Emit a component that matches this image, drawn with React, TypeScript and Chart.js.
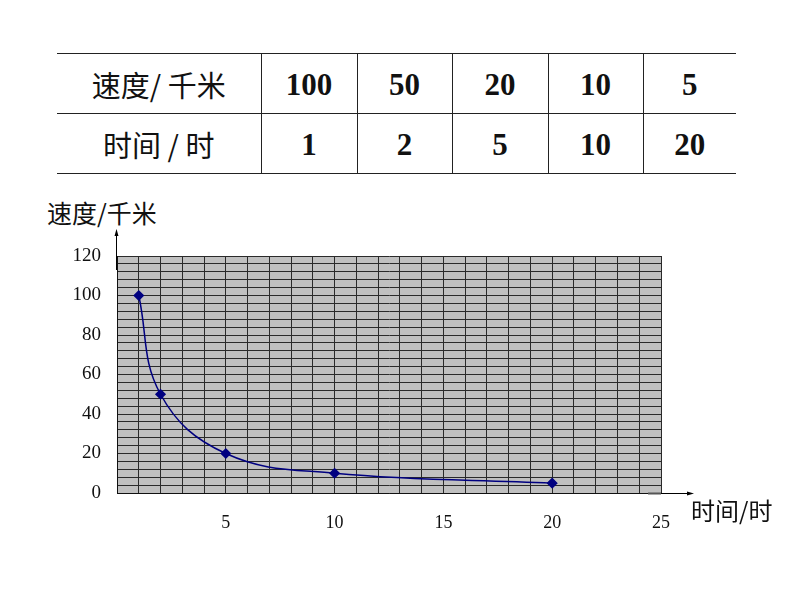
import { useEffect, useRef } from "react";
import { Chart, registerables } from "chart.js";

Chart.register(...registerables);

const times = [1, 2, 5, 10, 20];
const speeds = [100, 50, 20, 10, 5];
const xTickLabels = [5, 10, 15, 20, 25];
const yTickLabels = [0, 20, 40, 60, 80, 100, 120];

const rowSpeedLabel = "速度/ 千米";
const rowTimeLabel = "时间 / 时";
const yTitle = "速度/千米";
const xTitle = "时间/时";

const colWidths = [204, 96, 95, 96, 95, 93];

const plotBg = {
  id: "plotBg",
  beforeDraw(chart: Chart) {
    const { ctx, chartArea } = chart;
    ctx.save();
    ctx.fillStyle = "#c0c0c0";
    ctx.fillRect(chartArea.left, chartArea.top, chartArea.right - chartArea.left, chartArea.bottom - chartArea.top);
    ctx.restore();
  },
};

const axisArrows = {
  id: "axisArrows",
  afterDraw(chart: Chart) {
    const { ctx, chartArea } = chart;
    ctx.save();
    ctx.strokeStyle = "#000";
    ctx.fillStyle = "#000";
    ctx.lineWidth = 1;
    // y arrow
    const x0 = chartArea.left - 0.5;
    ctx.beginPath();
    ctx.moveTo(x0, chartArea.top + 14);
    ctx.lineTo(x0, chartArea.top - 24);
    ctx.stroke();
    ctx.beginPath();
    ctx.moveTo(x0, chartArea.top - 27);
    ctx.lineTo(x0 - 2, chartArea.top - 20);
    ctx.lineTo(x0 + 2, chartArea.top - 20);
    ctx.closePath();
    ctx.fill();
    // x arrow
    const y0 = chartArea.bottom + 0.5;
    ctx.strokeStyle = "#555";
    ctx.lineWidth = 2;
    ctx.beginPath();
    ctx.moveTo(chartArea.right - 13, y0);
    ctx.lineTo(chartArea.right, y0);
    ctx.stroke();
    ctx.strokeStyle = "#000";
    ctx.lineWidth = 1;
    ctx.beginPath();
    ctx.moveTo(chartArea.right, y0);
    ctx.lineTo(chartArea.right + 30, y0);
    ctx.stroke();
    ctx.beginPath();
    ctx.moveTo(chartArea.right + 33, y0);
    ctx.lineTo(chartArea.right + 26, y0 - 2);
    ctx.lineTo(chartArea.right + 26, y0 + 2);
    ctx.closePath();
    ctx.fill();
    ctx.restore();
  },
};

function SpeedChart() {
  const chartRef = useRef<HTMLCanvasElement>(null);
  const chartInstance = useRef<Chart | null>(null);

  useEffect(() => {
    if (!chartRef.current) return;
    if (chartInstance.current) chartInstance.current.destroy();
    const ctx = chartRef.current.getContext("2d");
    if (!ctx) return;

    chartInstance.current = new Chart(ctx, {
      type: "line",
      data: {
        datasets: [
          {
            data: times.map((t, i) => ({ x: t, y: speeds[i] })),
            borderColor: "#000080",
            backgroundColor: "#000080",
            borderWidth: 1.5,
            pointStyle: "rectRot",
            pointRadius: 4.5,
            tension: 0.4,
            fill: false,
          },
        ],
      },
      options: {
        animation: false,
        responsive: false,
        maintainAspectRatio: false,
        layout: { padding: { left: 0, top: 56, right: 133, bottom: 0 } },
        plugins: { legend: { display: false }, tooltip: { enabled: false } },
        scales: {
          x: {
            type: "linear",
            min: 0,
            max: 25,
            afterFit: (scale: any) => {
              scale.height = 57;
            },
            grid: { color: "#2a2a2a", lineWidth: 1, drawTicks: false },
            border: { color: "#111", width: 1 },
            ticks: {
              stepSize: 1,
              autoSkip: false,
              maxRotation: 0,
              padding: 19,
              color: "#111",
              font: { family: "'Liberation Serif', 'Times New Roman', serif", size: 18 },
              callback: (v: any) => (xTickLabels.includes(Number(v)) ? String(v) : ""),
            },
          },
          y: {
            min: 0,
            max: 120,
            afterFit: (scale: any) => {
              scale.width = 117;
            },
            grid: { color: "#2a2a2a", lineWidth: 1, drawTicks: false },
            border: { color: "#111", width: 1 },
            ticks: {
              stepSize: 4,
              autoSkip: false,
              padding: 16,
              color: "#111",
              font: { family: "'Liberation Serif', 'Times New Roman', serif", size: 19 },
              callback: (v: any) => (yTickLabels.includes(Number(v)) ? String(v) : ""),
            },
          },
        },
      },
      plugins: [plotBg, axisArrows],
    });

    return () => {
      if (chartInstance.current) {
        chartInstance.current.destroy();
        chartInstance.current = null;
      }
    };
  }, []);

  return <canvas ref={chartRef} width={794} height={350} style={{ position: "absolute", left: 0, top: 200, width: 794, height: 350 }}></canvas>;
}

const cellBase: React.CSSProperties = {
  borderTop: "1.5px solid #222",
  borderBottom: "1.5px solid #222",
  textAlign: "center",
  verticalAlign: "middle",
  padding: 0,
  height: 60,
  boxSizing: "border-box",
};

export default function App() {
  const cjk = "'Noto Sans CJK SC', sans-serif";
  const serif = "'Liberation Serif', 'Times New Roman', serif";
  const rows = [
    { label: rowSpeedLabel, values: speeds },
    { label: rowTimeLabel, values: times },
  ];
  return (
    <div style={{ position: "absolute", left: 0, top: 0, width: 794, height: 596, background: "#fff", overflow: "hidden" }}>
      <table style={{ position: "absolute", left: 57, top: 53, borderCollapse: "collapse", tableLayout: "fixed", width: 679 }}>
        <colgroup>
          {colWidths.map((w, i) => (
            <col key={i} style={{ width: w }} />
          ))}
        </colgroup>
        <tbody>
          {rows.map((r, ri) => (
            <tr key={ri}>
              <td style={{ ...cellBase, fontFamily: cjk, fontSize: 29, lineHeight: "34px", color: "#111" }}>{r.label}</td>
              {r.values.map((v, i) => (
                <td
                  key={i}
                  style={{ ...cellBase, borderLeft: "1.5px solid #222", fontFamily: serif, fontWeight: "bold", fontSize: 31, lineHeight: "34px", paddingTop: 2, color: "#111" }}
                >
                  {v}
                </td>
              ))}
            </tr>
          ))}
        </tbody>
      </table>
      <div style={{ position: "absolute", left: 47, top: 196, fontFamily: cjk, fontSize: 25, lineHeight: "32px", color: "#111", whiteSpace: "nowrap" }}>
        {yTitle}
      </div>
      <SpeedChart />
      <div style={{ position: "absolute", left: 691, top: 494, fontFamily: cjk, fontSize: 24, lineHeight: "32px", color: "#111", whiteSpace: "nowrap" }}>
        {xTitle}
      </div>
    </div>
  );
}
